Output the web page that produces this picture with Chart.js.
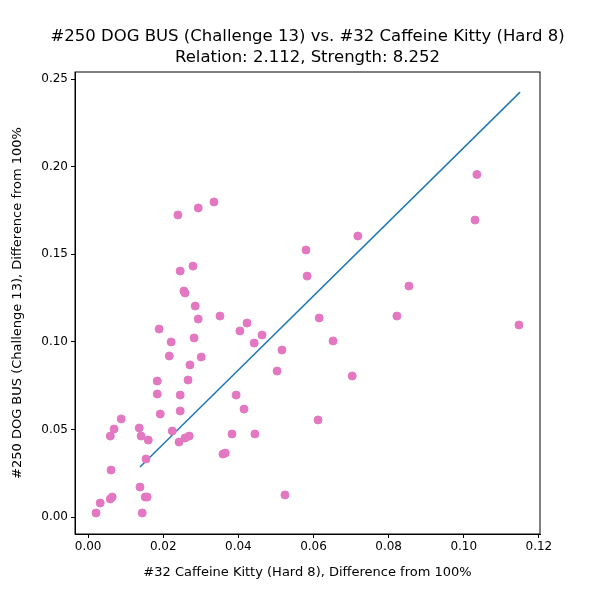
<!DOCTYPE html>
<html><head><script src="https://cdn.jsdelivr.net/npm/chart.js"></script>
<style>body{margin:0}#w{width:600px;height:600px}</style></head><body><div id="w"><canvas id="c"></canvas></div>
<script>
const xs=[0.0021,0.0032,0.0059,0.0061,0.0059,0.0064,0.0069,0.0088,0.0136,0.0141,0.0138,0.0144,0.0152,0.0157,0.0154,0.0160,0.0184,0.0184,0.0189,0.0192,0.0216,0.0221,0.0224,0.0239,0.0242,0.0245,0.0245,0.0245,0.0255,0.0258,0.0258,0.0266,0.0269,0.0271,0.0279,0.0285,0.0282,0.0293,0.0293,0.0301,0.0335,0.0351,0.0359,0.0365,0.0383,0.0394,0.0404,0.0415,0.0423,0.0442,0.0444,0.0463,0.0503,0.0516,0.0524,0.0580,0.0583,0.0612,0.0615,0.0652,0.0703,0.0718,0.0822,0.0854,0.1030,0.1035,0.1147];
const ys=[0.0023,0.0080,0.0462,0.0268,0.0103,0.0114,0.0502,0.0560,0.0508,0.0462,0.0171,0.0023,0.0114,0.0114,0.0331,0.0439,0.0776,0.0702,0.1073,0.0588,0.0919,0.0999,0.0491,0.1724,0.0428,0.1404,0.0605,0.0696,0.1290,0.0451,0.1279,0.0782,0.0462,0.0868,0.1432,0.1204,0.1022,0.1764,0.1130,0.0913,0.1798,0.1147,0.0359,0.0365,0.0474,0.0696,0.1062,0.0616,0.1107,0.0993,0.0474,0.1039,0.0833,0.0953,0.0126,0.1524,0.1375,0.0554,0.1136,0.1005,0.0805,0.1604,0.1147,0.1318,0.1695,0.1955,0.1096];
const lineX=[0.0138,0.1150];
const lineY=[0.0285,0.2425];
const titleLines=['#250 DOG BUS (Challenge 13) vs. #32 Caffeine Kitty (Hard 8)','Relation: 2.112, Strength: 8.252'];
new Chart(document.getElementById('c'),{
type:'scatter',
data:{datasets:[
{data:xs.map((x,i)=>({x,y:ys[i]})),backgroundColor:'#e377c2',borderColor:'#e377c2',pointRadius:4,pointHoverRadius:4},
{type:'line',data:lineX.map((x,i)=>({x,y:lineY[i]})),borderColor:'#1f77b4',borderWidth:1.5,pointRadius:0,fill:false}
]},
options:{responsive:true,maintainAspectRatio:false,animation:false,
layout:{padding:{left:10,right:60,top:72,bottom:20}},
plugins:{legend:{display:false},tooltip:{enabled:false},title:{display:false}},
scales:{
x:{type:'linear',min:-0.0035,max:0.1203,afterFit(a){a.height=46},
ticks:{color:'#000',padding:2,font:{size:12,family:'DejaVu Sans'},callback:v=>v.toFixed(2)},
afterBuildTicks(a){a.ticks=[0,0.02,0.04,0.06,0.08,0.1,0.12].map(v=>({value:v}))},
grid:{display:true,drawOnChartArea:false,drawTicks:true,tickLength:4,tickColor:'#000'},border:{color:'#000'},
title:{display:true,text:'#32 Caffeine Kitty (Hard 8), Difference from 100%',color:'#000',padding:{top:2,bottom:0},font:{size:13,family:'DejaVu Sans'}}},
y:{type:'linear',min:-0.0097,max:0.254,afterFit(a){a.width=65},
afterBuildTicks(a){a.ticks=[0,0.05,0.1,0.15,0.2,0.25].map(v=>({value:v}))},
ticks:{color:'#000',padding:3,font:{size:12,family:'DejaVu Sans'},callback:v=>v.toFixed(2)},
grid:{display:true,drawOnChartArea:false,drawTicks:true,tickLength:4,tickColor:'#000'},border:{color:'#000'},
title:{display:true,text:'#250 DOG BUS (Challenge 13), Difference from 100%',color:'#000',padding:{top:0,bottom:0},font:{size:13,family:'DejaVu Sans'}}}
}},
plugins:[{id:'frame',afterDraw(c){const a=c.chartArea,x=c.ctx;x.save();x.strokeStyle='#000';x.lineWidth=1;x.strokeRect(a.left,a.top,a.right-a.left,a.bottom-a.top);
x.fillStyle='#000';x.font='16.5px "DejaVu Sans"';x.textAlign='center';x.textBaseline='middle';const cx=(a.left+a.right)/2;
x.fillText(titleLines[0],cx,37);x.fillText(titleLines[1],cx,58);x.restore();}}]
});
</script></body></html>
